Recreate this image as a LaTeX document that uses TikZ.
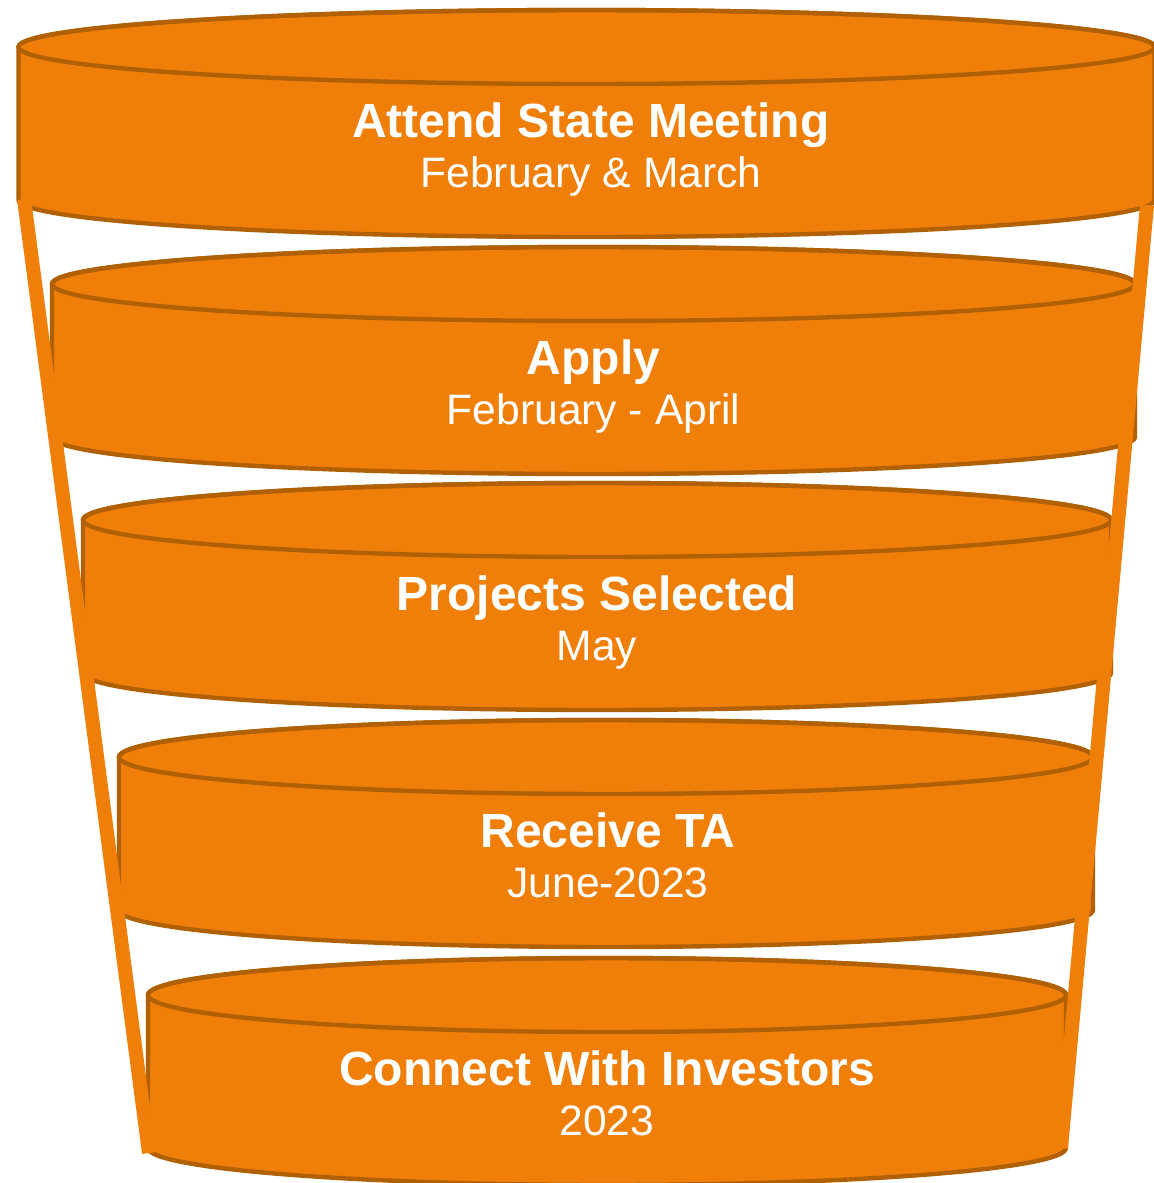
\documentclass[tikz,border=0pt]{standalone}
\usepackage{fontspec}
\setmainfont{Liberation Sans}
\definecolor{drumfill}{RGB}{240,127,10}
\definecolor{drumedge}{RGB}{178,96,4}
\tikzset{
  drum/.style={fill=drumfill, draw=drumedge, line width=2.2pt},
  funnel/.style={draw=drumfill, line width=7pt},
  stagehead/.style={text=white, font=\fontsize{24}{28}\selectfont\bfseries, anchor=base, inner sep=0pt},
  stagedate/.style={text=white, font=\fontsize{21.3}{25}\selectfont, anchor=base, inner sep=0pt}
}
\begin{document}
\begin{tikzpicture}[x=0.5pt, y=0.5pt]
  \useasboundingbox (0,0) rectangle (1153,-1183);
  % the five stages, top to bottom
  \foreach \cx/\rx/\ty/\tx/\nm/\head/\when in {
      586.5/568/-47/591/meet/Attend State Meeting/February \& March,
      593.5/541.5/-284/593.5/apply/Apply/February - April,
      597/514/-520/597/select/Projects Selected/May,
      606/487/-757/608/ta/Receive TA/June-2023,
      607/459/-995/607/invest/Connect With Investors/2023} {
    \filldraw[drum] (\cx-\rx,\ty) -- (\cx-\rx,\ty-153)
      arc[start angle=180, end angle=360, x radius=\rx, y radius=37]
      -- (\cx+\rx,\ty)
      arc[start angle=0, end angle=180, x radius=\rx, y radius=37] -- cycle;
    \draw[drum, fill=none] (\cx,\ty) ellipse[x radius=\rx, y radius=37];
    \node[stagehead] (\nm-head) at (\tx,\ty-90) {\head};
    \node[stagedate] (\nm-date) at (\tx,\ty-140) {\when};
  }
  % funnel sides
  \coordinate (lefttop) at (24,-199);
  \coordinate (leftbot) at (149,-1153);
  \coordinate (righttop) at (1147,-205);
  \coordinate (rightbot) at (1061,-1148);
  \draw[funnel] (lefttop) -- (leftbot);
  \draw[funnel] (righttop) -- (rightbot);
\end{tikzpicture}
\end{document}
